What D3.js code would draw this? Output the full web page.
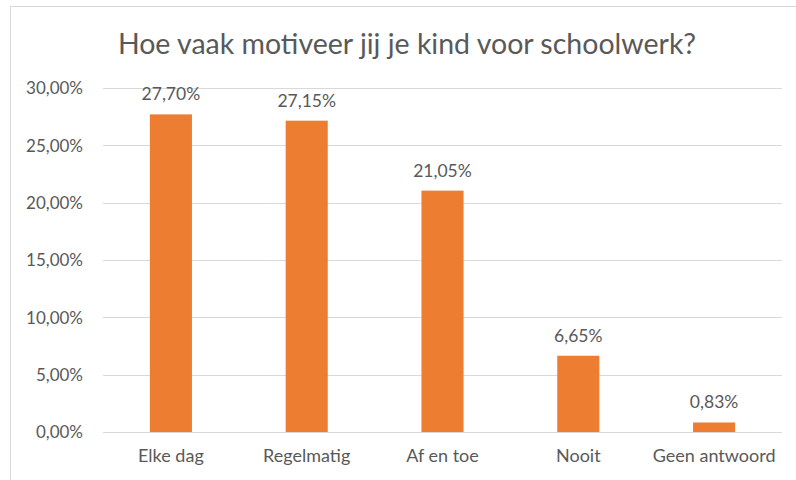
<!DOCTYPE html>
<html>
<head>
<meta charset="utf-8">
<script src="https://cdn.jsdelivr.net/npm/d3@7"></script>
<style>
  body { margin: 0; background: #fff; }
  text { font-family: Lato, "Open Sans", sans-serif; fill: #595959; }
</style>
</head>
<body>
<div id="chart"></div>
<script>
const categories = ['Elke dag', 'Regelmatig', 'Af en toe', 'Nooit', 'Geen antwoord'];
const values = [27.70, 27.15, 21.05, 6.65, 0.83];
const yTicks = [0, 5, 10, 15, 20, 25, 30];
const title = 'Hoe vaak motiveer jij je kind voor schoolwerk?';

const W = 796, H = 480;
const margin = { top: 88, right: 14, bottom: 48, left: 103 };
const width = W - margin.left - margin.right,
  height = H - margin.top - margin.bottom;

const fmt = function (v) {
  return v.toFixed(2).replace('.', ',') + '%';
};

const svg = d3.select('#chart')
  .append('svg')
  .attr('width', W)
  .attr('height', H);

// chart border
svg.append('rect')
  .attr('x', 10.5)
  .attr('y', 6.5)
  .attr('width', 820)
  .attr('height', 520)
  .style('fill', 'none')
  .style('stroke', '#d9d9d9');

svg.append('text')
  .attr('x', 407)
  .attr('y', 54)
  .attr('text-anchor', 'middle')
  .style('font-size', '28.5px')
  .text(title);

const g = svg.append('g')
  .attr('transform', 'translate(' + margin.left + ',' + margin.top + ')');

const x = d3.scaleBand()
  .domain(categories)
  .range([0, width])
  .paddingInner(0.69)
  .paddingOuter(0.345);

const y = d3.scaleLinear()
  .domain([0, 30])
  .range([height, 0]);

//gridlines
g.selectAll('.grid')
  .data(yTicks)
  .enter().append('line')
  .attr('class', 'grid')
  .attr('x1', 0)
  .attr('x2', width)
  .attr('y1', function (d) { return Math.round(y(d)) + 0.5; })
  .attr('y2', function (d) { return Math.round(y(d)) + 0.5; })
  .style('stroke', '#d9d9d9')
  .style('stroke-width', 1);

const yAxis = g.append('g')
  .call(d3.axisLeft(y).tickValues(yTicks).tickSize(0).tickPadding(20).tickFormat(fmt));
yAxis.select('.domain').remove();
yAxis.selectAll('text').style('font-size', '17px').attr('dy', '0.35em');

g.selectAll('.bar')
  .data(values)
  .enter().append('rect')
  .attr('class', 'bar')
  .attr('x', function (d, i) { return x(categories[i]); })
  .attr('width', x.bandwidth())
  .attr('y', function (d) { return y(d); })
  .attr('height', function (d) { return height - y(d); })
  .style('fill', '#ed7d31');

g.selectAll('.label')
  .data(values)
  .enter().append('text')
  .attr('class', 'label')
  .attr('x', function (d, i) { return x(categories[i]) + x.bandwidth() / 2; })
  .attr('y', function (d) { return y(d) - 14; })
  .attr('text-anchor', 'middle')
  .style('font-size', '17.5px')
  .text(fmt);

const xAxis = g.append('g')
  .attr('transform', 'translate(0,' + height + ')')
  .call(d3.axisBottom(x).tickSize(0).tickPadding(17));
xAxis.select('.domain').remove();
xAxis.selectAll('text').style('font-size', '18px');
</script>
</body>
</html>
